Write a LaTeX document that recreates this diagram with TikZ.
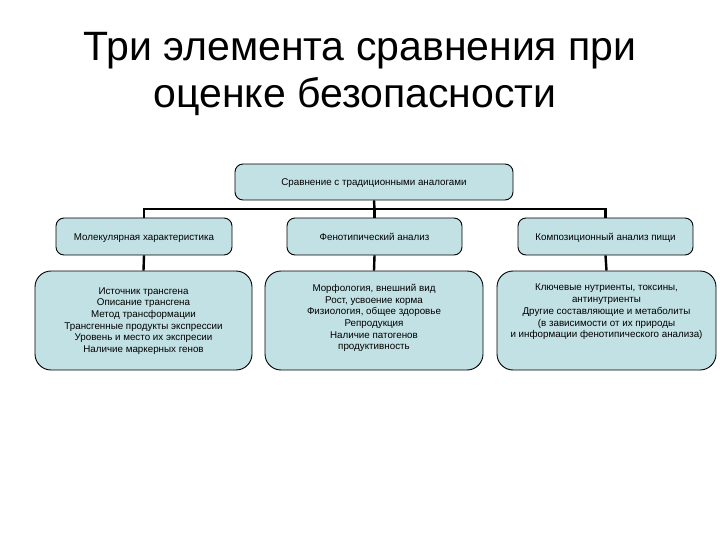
\documentclass[tikz,border=0pt]{standalone}
\usepackage{fontspec}
\setmainfont{Liberation Sans}
\definecolor{boxfill}{RGB}{194,225,228}
\begin{document}
\begin{tikzpicture}[x=1pt,y=-1pt,
  box/.style={draw=black, line width=0.9pt, fill=boxfill, rounded corners=8pt, inner sep=0pt},
  bigbox/.style={box, rounded corners=16pt},
  small/.style={font=\fontsize{9.8}{11.7}\selectfont, align=center, inner sep=0pt},
  single/.style={small, anchor=base},
  conn/.style={draw=black, line width=2.4pt},
  ttl/.style={font=\fontsize{41}{48}\selectfont, anchor=base, inner sep=0pt}]
\useasboundingbox (0,0) rectangle (720,540);
% title
\node[ttl] (t1) at (360,61) {Три элемента сравнения при};
\node[ttl] (t2) at (355,108) {оценке безопасности};
% top box
\node[box, minimum width=278pt, minimum height=36pt] (top) at (374,182) {};
\node[single] (toptxt) at (374,186) {Сравнение с традиционными аналогами};
% level 2
\node[box, minimum width=176pt, minimum height=37pt] (m1) at (144,236.5) {};
\node[box, minimum width=175pt, minimum height=37pt] (m2) at (374.5,236.5) {};
\node[box, minimum width=175pt, minimum height=37pt] (m3) at (605.5,236.5) {};
\node[single] (m1t) at (144,240.5) {Молекулярная характеристика};
\node[single] (m2t) at (374.5,240.5) {Фенотипический анализ};
\node[single] (m3t) at (605.5,240.5) {Композиционный анализ пищи};
% level 3
\node[bigbox, minimum width=217pt, minimum height=99pt] (b1) at (143.5,320.5) {};
\node[bigbox, minimum width=218pt, minimum height=99pt] (b2) at (374,320.5) {};
\node[bigbox, minimum width=219pt, minimum height=99pt] (b3) at (606.5,320.5) {};
\node[small] (b1t) at (143.5,321) {Источник трансгена\\Описание трансгена\\Метод трансформации\\Трансгенные продукты экспрессии\\Уровень и место их экспресии\\Наличие маркерных генов};
\node[small] (b2t) at (374,318) {Морфология, внешний вид\\Рост, усвоение корма\\Физиология, общее здоровье\\Репродукция\\Наличие патогенов\\продуктивность};
\node[small] (b3t) at (606.5,312) {Ключевые нутриенты, токсины,\\антинутриенты\\Другие составляющие и метаболиты\\(в зависимости от их природы\\и информации фенотипического анализа)};
% connectors
\coordinate (hb) at (374.5,209);
\draw[conn] (top.south) -- (hb);
\draw[conn] (hb) -| (m1.north);
\draw[conn] (hb) -| (m3.north);
\draw[conn] (hb) -- (m2.north);
\draw[conn] (m1.south) -- (b1.north);
\draw[conn] (m2.south) -- (b2.north);
\draw[conn] (m3.south) -- (b3.north);
\end{tikzpicture}
\end{document}
